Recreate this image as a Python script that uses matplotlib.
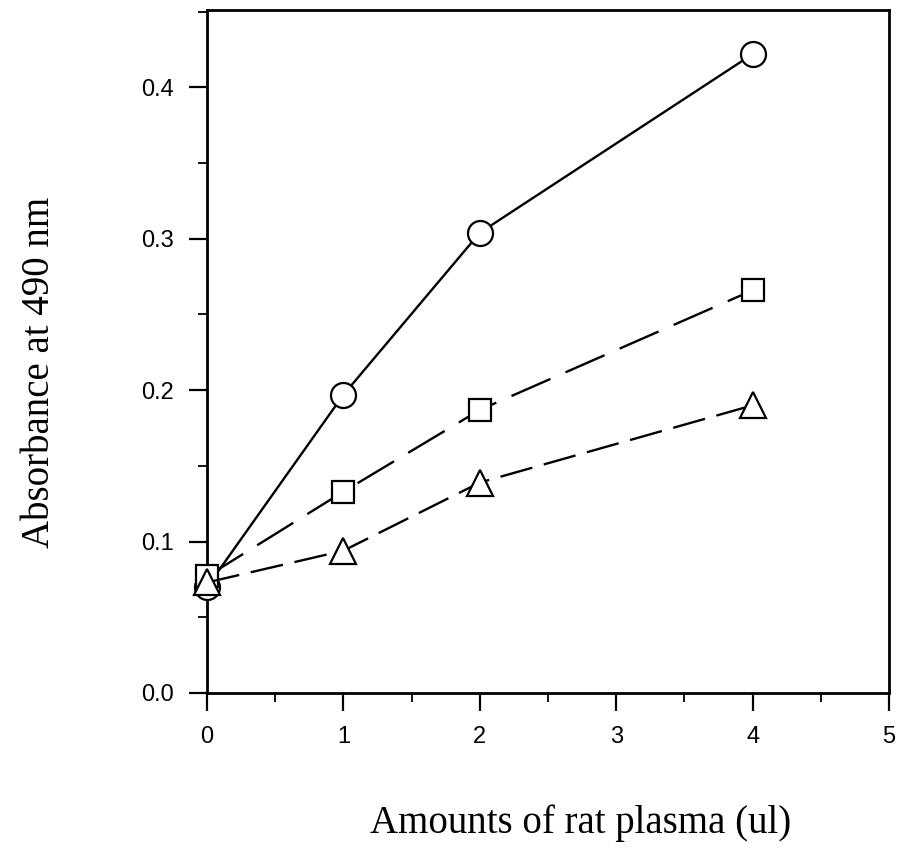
import matplotlib.pyplot as plt
from matplotlib.ticker import MultipleLocator

# amounts of rat plasma (ul)
plasma = [0, 1, 2, 4]
# absorbance at 490 nm
circle_vals = [0.070, 0.197, 0.304, 0.422]
square_vals = [0.077, 0.133, 0.187, 0.266]
triangle_vals = [0.073, 0.094, 0.139, 0.190]

fig = plt.figure(figsize=(8.99, 8.48), dpi=100)
ax = fig.add_axes([0.2303, 0.1828, 0.7587, 0.8052])

mk = dict(markerfacecolor='white', markeredgecolor='black', markeredgewidth=1.6,
          color='black', linewidth=1.7, clip_on=False)
ax.plot(plasma, circle_vals, '-', marker='o', markersize=18, **mk, zorder=3)
ax.plot(plasma, square_vals, '--', marker='s', markersize=16, dashes=(18, 7), **mk, zorder=4)
ax.plot(plasma, triangle_vals, '--', marker='^', markersize=19, dashes=(14, 5), **mk, zorder=5)

ax.set_xlim(0, 5)
ax.set_ylim(0, 0.451)
ax.xaxis.set_major_locator(MultipleLocator(1))
ax.xaxis.set_minor_locator(MultipleLocator(0.5))
ax.yaxis.set_major_locator(MultipleLocator(0.1))
ax.yaxis.set_minor_locator(MultipleLocator(0.05))
ax.yaxis.set_major_formatter(plt.FuncFormatter(lambda v, p: f'{v:.1f}'))

ax.tick_params(which='major', direction='out', length=13, width=1.6, labelsize=17, pad=11)
ax.tick_params(which='minor', direction='out', length=6.5, width=1.3)
ax.tick_params(axis='x', which='major', pad=11)
for lab in ax.get_xticklabels() + ax.get_yticklabels():
    lab.set_family('Liberation Sans')
for s in ax.spines.values():
    s.set_linewidth(2)

ax.set_xlabel('Amounts of rat plasma (ul)', family='Liberation Serif', fontsize=28, va='center')
ax.set_ylabel('Absorbance at 490 nm', family='Liberation Serif', fontsize=28, va='center')
ax.xaxis.set_label_coords(0.547, -0.19)
ax.yaxis.set_label_coords(-0.245, 0.47)

fig.savefig('out.png', dpi=100)
